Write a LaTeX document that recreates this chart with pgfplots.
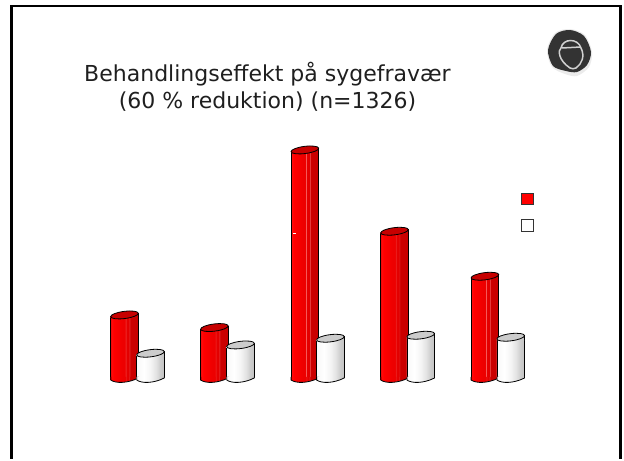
\documentclass[border=0pt]{standalone}
\usepackage{pgfplots}
\usepackage{fontspec}
\setmainfont{DejaVu Sans}
\pgfplotsset{compat=1.18}
% stepped cylinder shadings: 25bp..75bp spans the bar's width
\pgfdeclarehorizontalshading{redcyl}{100bp}{
 rgb(0bp)=(.85,0,0); rgb(25bp)=(.85,0,0); rgb(26bp)=(1,.05,.05); rgb(30bp)=(1,0,0);
 rgb(46bp)=(.93,0,0); rgb(51bp)=(.93,0,0); rgb(52bp)=(.96,.35,.35); rgb(53bp)=(.9,0,0);
 rgb(58bp)=(.88,0,0); rgb(59bp)=(.93,.3,.3); rgb(60bp)=(.8,0,0); rgb(75bp)=(.78,0,0); rgb(100bp)=(.78,0,0)}
\pgfdeclarehorizontalshading{whitecyl}{100bp}{
 rgb(0bp)=(.97,.97,.97); rgb(25bp)=(.97,.97,.97); rgb(38bp)=(1,1,1);
 rgb(50bp)=(.96,.96,.96); rgb(60bp)=(.89,.89,.89); rgb(68bp)=(.8,.8,.8); rgb(75bp)=(.76,.76,.76); rgb(100bp)=(.76,.76,.76)}
\newcommand\defcaps[3]{%
 \pgfdeclareplotmark{#1top}{%
  \path[x=1pt,y=1pt,draw=none,shade,shading=#2] (-13.8,-1.2)--(-13.8,0)--(13.8,3.4)--(13.8,-1.2)--cycle;
  \draw[x=1pt,y=1pt,line width=.8pt,black] (13.8,-1)--(13.8,3.5);
  \draw[x=1pt,y=1pt,line width=.8pt,black,fill=#3] (13.8,3.49) .. controls (13.55,5.46) and (7.17,6.28) .. (-0.45,5.32) .. controls (-8.07,4.36) and (-14.05,1.98) .. (-13.8,0.01) .. controls (-13.55,-1.96) and (-7.17,-2.78) .. (0.45,-1.82) .. controls (8.07,-0.86) and (14.05,1.52) .. cycle;}%
 \pgfdeclareplotmark{#1bot}{%
  \path[x=1pt,y=1pt,draw=none,shade,shading=#2] (-13.8,1.2)--(13.8,1.2)--(13.8,0) .. controls (3,-5.3) and (-9,-5.3) .. (-13.8,-2)--cycle;
  \draw[x=1pt,y=1pt,line width=.8pt,black] (13.8,1)--(13.8,0) .. controls (3,-5.5) and (-9,-5.5) .. (-13.8,-2)--(-13.8,1);}%
}
\defcaps{red}{redcyl}{red!78!black}
\defcaps{white}{whitecyl}{black!20}
\newcommand\cyl[4]{% name, shading, x, value
 \addplot[ybar,bar width=27.6pt,bar shift=0pt,draw=none,shade,shading=#2,forget plot] coordinates {(#3,#4)};
 \addplot[ycomb,black,line width=.8pt,no marks,xshift=-13.8pt,forget plot] coordinates {(#3,#4)};
 \addplot[ycomb,black,line width=.8pt,no marks,xshift=13.8pt,forget plot] coordinates {(#3,#4)};
 \addplot[only marks,mark=#1bot,forget plot] coordinates {(#3,0)};
 \addplot[only marks,mark=#1top,forget plot] coordinates {(#3,#4)};
}
\begin{document}
\begin{tikzpicture}
\begin{axis}[
  width=624pt,height=459pt,scale only axis,
  xmin=0,xmax=624,ymin=-81,ymax=378,
  hide axis,clip=false,
]
\path (axis cs:0,-81) rectangle (axis cs:624,378);
% frame
\draw[line width=2.4pt,black] (axis cs:11.3,-81)--(axis cs:11.3,372.2)--(axis cs:620.5,372.2)--(axis cs:620.5,-81);
% title
\node[align=center,font=\fontsize{22}{27}\selectfont,text=black!88,anchor=center] at (axis cs:267.5,291.5)
  {Behandlingseffekt på sygefravær\\(60 \% reduktion) (n=1326)};
% logo
\begin{scope}[shift={(axis cs:0,0)},x=1pt,y=1pt]
\fill[black!8] plot[smooth cycle] coordinates {(547,328)(555,345)(570,349)(585,343)(592,326)(589,311)(577,302)(565,304)(552,311)};
\fill[black!80] plot[smooth cycle] coordinates {(548,328)(556,344)(570,348)(584,342)(591,326)(587,313)(577,306)(566,307)(553,312)};
\draw[black!18,line width=1.5pt] (570,310) .. controls (558,318) and (558,328) .. (561,330) .. controls (563,340) and (578,340) .. (581,330) .. controls (585,322) and (582,314) .. (576,310) .. controls (574,309) and (572,309) .. (570,310);
\draw[black!18,line width=1.5pt] (562,330)--(581,331);
\end{scope}
% red cylinders
\cyl{red}{redcyl}{124.5}{61.3}
\cyl{red}{redcyl}{214.4}{48.7}
\cyl{red}{redcyl}{304.9}{226.3}
\cyl{red}{redcyl}{394.5}{145.0}
\cyl{red}{redcyl}{484.9}{100.0}
% white cylinders, each in front of its red neighbour
\cyl{white}{whitecyl}{150.5}{23.0}
\cyl{white}{whitecyl}{240.5}{31.3}
\cyl{white}{whitecyl}{330.4}{38.0}
\cyl{white}{whitecyl}{420.7}{41.0}
\cyl{white}{whitecyl}{510.7}{39.0}
% legend keys (their labels are blank in the original)
\addplot[only marks,mark=square*,mark size=5.9pt,mark options={fill=red,draw=black!80,line width=.7pt},forget plot] coordinates {(527.3,179.2)};
\addplot[only marks,mark=square*,mark size=5.9pt,mark options={fill=white,draw=black!80,line width=.7pt},forget plot] coordinates {(527.3,152.7)};
\draw[white,line width=.7pt] (axis cs:293.3,144.7)--(axis cs:295.5,144.7);
\end{axis}
\end{tikzpicture}
\end{document}
